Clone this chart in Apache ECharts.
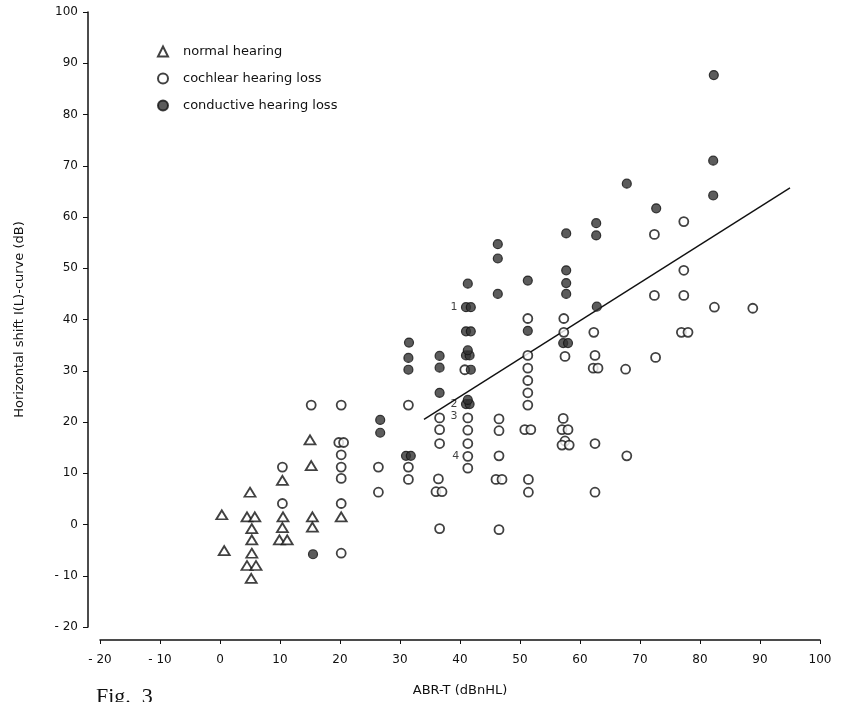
<!DOCTYPE html>
<html>
<head>
<meta charset="utf-8">
<script src="https://cdn.jsdelivr.net/npm/echarts@6/dist/echarts.min.js"></script>
<style>html,body{margin:0;padding:0;background:#fff}#c{width:860px;height:702px}</style>
</head>
<body>
<div id="c"></div>
<script>
const seriesNames = ['normal hearing', 'cochlear hearing loss', 'conductive hearing loss'];
const xAxisTitle = 'ABR-T (dBnHL)';
const yAxisTitle = 'Horizontal shift I(L)-curve (dB)';
const figLabel = 'Fig.  3';

const normalHearing = [
  [0.3, 1.9], [0.7, -5.1],
  [4.5, 1.5], [5.8, 1.5], [5.0, 6.3], [5.3, -0.8], [5.3, -3], [5.3, -5.6], [4.5, -8], [6.0, -8], [5.2, -10.5],
  [10.4, 8.6], [10.5, 1.5], [10.4, -0.6], [9.9, -3], [11.2, -3],
  [15.0, 16.5], [15.2, 11.5], [15.4, 1.5], [15.4, -0.5],
  [20.2, 1.5]
];

const cochlearLoss = [
  [10.4, 11.2], [10.4, 4.1],
  [15.2, 23.3],
  [20.2, 23.3], [19.8, 16.0], [20.6, 16.0], [20.2, 13.6], [20.2, 11.2], [20.2, 9.0], [20.2, 4.1], [20.2, -5.6],
  [26.4, 11.2], [26.4, 6.3],
  [31.4, 23.3], [31.4, 11.2], [31.4, 8.8],
  [36.6, 20.8], [36.6, 18.5], [36.6, 15.8], [36.4, 8.9], [36.0, 6.4], [37.0, 6.4], [36.6, -0.8],
  [40.8, 30.2], [41.3, 20.8], [41.3, 18.4], [41.3, 15.8], [41.3, 13.3], [41.3, 11.0],
  [46.5, 20.6], [46.5, 18.3], [46.5, 13.4], [46.0, 8.8], [47.0, 8.8], [46.5, -1.0],
  [51.3, 40.2], [51.3, 33.0], [51.3, 30.5], [51.3, 28.1], [51.3, 25.7], [51.3, 23.3], [50.8, 18.5], [51.8, 18.5], [51.4, 8.8], [51.4, 6.3],
  [57.3, 40.2], [57.3, 37.5], [57.5, 32.8], [57.2, 20.7], [57.0, 18.5], [58.0, 18.5], [57.5, 16.3], [57.0, 15.5], [58.2, 15.5],
  [62.3, 37.5], [62.5, 33.0], [62.2, 30.5], [63.0, 30.5], [62.5, 15.8], [62.5, 6.3],
  [67.6, 30.3], [67.8, 13.4],
  [72.4, 56.6], [72.4, 44.7], [72.6, 32.6],
  [77.3, 59.1], [77.3, 49.6], [77.3, 44.7], [76.9, 37.5], [78.0, 37.5],
  [82.4, 42.4],
  [88.8, 42.2]
];

const conductiveLoss = [
  [15.5, -5.8],
  [26.7, 20.4], [26.7, 17.9],
  [31.5, 35.5], [31.4, 32.5], [31.4, 30.2], [31.0, 13.4], [31.8, 13.4],
  [36.6, 32.9], [36.6, 30.6], [36.6, 25.7],
  [41.3, 47.0], [41.0, 42.4], [41.8, 42.4], [41.0, 37.7], [41.8, 37.7],
  [41.0, 33.0], [41.6, 33.0], [41.3, 34.0], [41.8, 30.2],
  [41.0, 23.5], [41.6, 23.5], [41.3, 24.3],
  [46.3, 54.7], [46.3, 51.9], [46.3, 45.0],
  [51.3, 47.6], [51.3, 37.8],
  [57.7, 56.8], [57.7, 49.6], [57.7, 47.1], [57.7, 45.0], [57.2, 35.4], [58.0, 35.4],
  [62.7, 58.8], [62.7, 56.4], [62.8, 42.5],
  [67.8, 66.5],
  [72.7, 61.7],
  [82.3, 87.7], [82.2, 71.0], [82.2, 64.2]
];

const regressionLine = [[34, 20.5], [95, 65.7]];

const pointNotes = ['1', '2', '3', '4'];
const pointNoteX = [39, 39, 39, 39.3];
const pointNoteY = [42.4, 23.5, 21.2, 13.4];

const xTicks = [-20, -10, 0, 10, 20, 30, 40, 50, 60, 70, 80, 90, 100];
const yTicks = [-20, -10, 0, 10, 20, 30, 40, 50, 60, 70, 80, 90, 100];

const fmt = v => (v < 0 ? '- ' + Math.abs(v) : String(v));
const font = 'DejaVu Sans';

const chart = echarts.init(document.getElementById('c'), null, {renderer: 'canvas'});
chart.setOption({
  backgroundColor: '#fff',
  animation: false,
  textStyle: {fontFamily: font, color: '#111'},
  grid: {left: 100, right: 40, top: 12, bottom: 75, containLabel: false},
  legend: {
    orient: 'vertical', left: 152, top: 40, itemGap: 14,
    itemWidth: 10, itemHeight: 10,
    data: seriesNames,
    textStyle: {fontFamily: font, fontSize: 13, color: '#111', padding: [0, 0, 0, 10]}
  },
  xAxis: {
    type: 'value', min: xTicks[0], max: xTicks[xTicks.length - 1], interval: 10,
    offset: 13,
    name: xAxisTitle, nameLocation: 'middle', nameGap: 44,
    nameTextStyle: {fontFamily: font, fontSize: 13, color: '#111'},
    axisLine: {onZero: false, lineStyle: {color: '#111', width: 1.5}},
    axisTick: {length: 4, lineStyle: {color: '#111'}},
    axisLabel: {formatter: fmt, fontFamily: font, fontSize: 12, color: '#111', margin: 14},
    splitLine: {show: false}
  },
  yAxis: {
    type: 'value', min: yTicks[0], max: yTicks[yTicks.length - 1], interval: 10,
    offset: 12,
    name: yAxisTitle, nameLocation: 'middle', nameGap: 62, nameRotate: 90,
    nameTextStyle: {fontFamily: font, fontSize: 13, color: '#111'},
    axisLine: {show: true, onZero: false, lineStyle: {color: '#111', width: 1.5}},
    axisTick: {show: true, length: 5, lineStyle: {color: '#111'}},
    axisLabel: {formatter: fmt, fontFamily: font, fontSize: 12, color: '#111', margin: 10},
    splitLine: {show: false}
  },
  graphic: [{
    type: 'text', left: 96, top: 686,
    style: {text: figLabel, font: '22px "Liberation Serif", serif', fill: '#111'}
  }],
  series: [
    {
      type: 'line', data: regressionLine, symbol: 'none', silent: true,
      lineStyle: {color: '#111', width: 1.4}, z: 1
    },
    {
      name: seriesNames[1], type: 'scatter', data: cochlearLoss, symbol: 'circle', symbolSize: 9,
      itemStyle: {color: '#fff', borderColor: '#111', borderWidth: 1.8}, z: 3
    },
    {
      name: seriesNames[0], type: 'scatter', data: normalHearing, symbol: 'triangle', symbolSize: [11, 9],
      itemStyle: {color: '#fff', borderColor: '#111', borderWidth: 1.8}, z: 3
    },
    {
      name: seriesNames[2], type: 'scatter', data: conductiveLoss, symbol: 'circle', symbolSize: 9,
      itemStyle: {color: '#333', borderColor: '#111', borderWidth: 1.2}, z: 4
    },
    {
      type: 'scatter', symbolSize: 0, silent: true, z: 5,
      data: pointNotes.map((n, i) => ({name: n, value: [pointNoteX[i], pointNoteY[i]]})),
      label: {show: true, position: 'inside', formatter: p => p.name, fontFamily: font, fontSize: 11, color: '#111'}
    }
  ]
});
</script>
</body>
</html>
